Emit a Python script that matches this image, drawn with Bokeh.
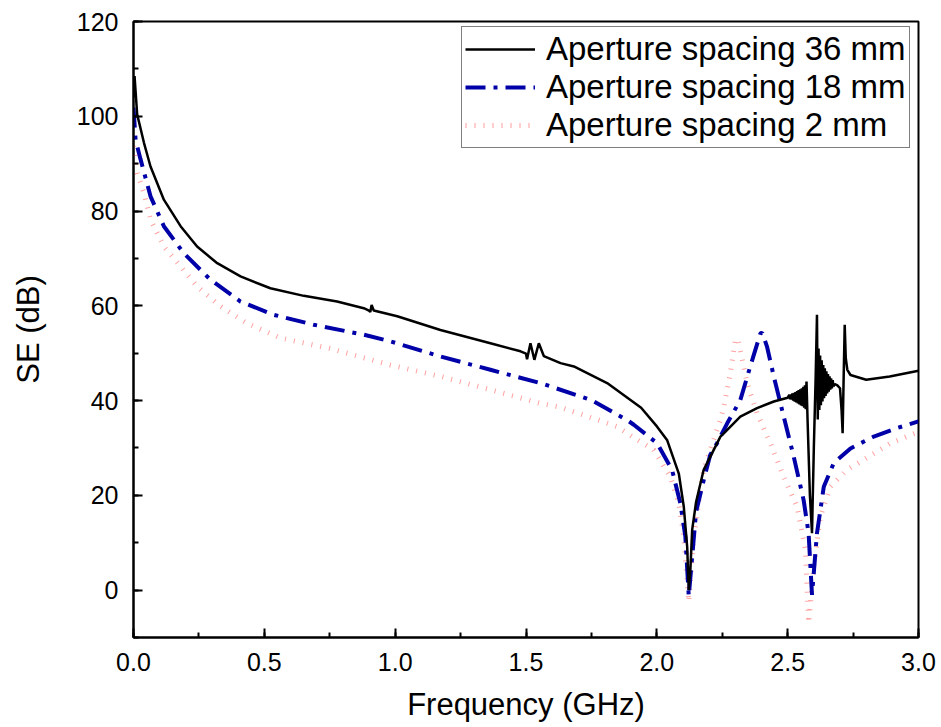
from bokeh.plotting import figure
from bokeh.models import Legend, LegendItem, SingleIntervalTicker, Range1d, PrintfTickFormatter
from bokeh.embed import file_html
from bokeh.resources import INLINE

# ---- data ----
f36 = [0.000, 0.004, 0.014, 0.040, 0.065, 0.116, 0.180, 0.243, 0.320, 0.409, 0.523, 0.651, 0.778,
       0.880, 0.900, 0.905, 0.910, 0.918, 1.008, 1.173, 1.364, 1.479, 1.500, 1.504, 1.517, 1.532,
       1.549, 1.568, 1.632, 1.683, 1.810, 1.940, 2.001, 2.039, 2.084, 2.103, 2.116, 2.122, 2.128,
       2.135, 2.150, 2.179, 2.192, 2.243, 2.256, 2.319, 2.383, 2.447, 2.500,
       2.506, 2.509, 2.512, 2.515, 2.518, 2.521, 2.524, 2.527, 2.530, 2.533, 2.536, 2.539, 2.542,
       2.545, 2.548, 2.551, 2.554, 2.557, 2.560, 2.563, 2.566, 2.569, 2.572, 2.576, 2.585, 2.593,
       2.600, 2.607, 2.612,
       2.615, 2.618, 2.621, 2.624, 2.627, 2.630, 2.633, 2.636, 2.639, 2.642, 2.645, 2.648, 2.651,
       2.654, 2.657, 2.660, 2.663, 2.666, 2.669, 2.672, 2.675, 2.680, 2.690, 2.700, 2.706, 2.710,
       2.714, 2.718, 2.722, 2.728, 2.740, 2.800, 2.890, 3.000]
se36 = [104.0, 108.5, 100.4, 94.4, 89.4, 82.4, 76.8, 72.5, 69.0, 66.2, 63.7, 62.1, 60.9,
        59.5, 59.0, 58.7, 60.2, 59.0, 57.8, 54.9, 52.1, 50.4, 49.9, 48.7, 52.1, 48.6,
        52.1, 49.4, 47.9, 47.2, 43.7, 38.5, 34.5, 31.7, 24.6, 17.6, 9.1, 0.0, 4.0,
        12.7, 18.6, 25.4, 26.8, 32.4, 33.1, 36.6, 38.4, 39.8, 40.6,
        41.2, 40.3, 41.3, 40.2, 41.5, 40.0, 41.6, 39.8, 41.8, 39.6, 42.0, 39.4, 42.2,
        39.2, 42.4, 39.0, 42.6, 38.8, 42.9, 38.5, 43.2, 38.2, 44.0, 36.0, 20.0, 12.0,
        30.0, 45.0, 58.1,
        36.0, 51.0, 38.0, 49.5, 39.0, 48.5, 39.8, 47.5, 40.5, 46.8, 41.0, 46.2, 41.5,
        45.6, 41.9, 45.1, 42.3, 44.7, 42.6, 44.3, 43.0, 43.5, 43.2, 42.6, 38.0, 33.1,
        45.0, 56.0, 49.0, 46.5, 45.4, 44.4, 45.1, 46.3]

f18 = [0.000, 0.008, 0.027, 0.065, 0.116, 0.192, 0.294, 0.409, 0.536, 0.689, 0.880, 0.982,
       1.173, 1.364, 1.555, 1.750, 1.886, 1.912, 2.001, 2.058, 2.090, 2.109, 2.122, 2.135,
       2.150, 2.179, 2.204, 2.230, 2.269, 2.319, 2.357, 2.396, 2.403, 2.421, 2.447, 2.485,
       2.523, 2.561, 2.580, 2.593, 2.612, 2.638, 2.676, 2.740, 2.829, 2.918, 3.000]
se18 = [101.8, 95.0, 90.9, 83.1, 76.8, 71.1, 65.5, 60.9, 58.1, 56.0, 53.9, 52.5,
        49.3, 46.5, 43.7, 40.1, 35.9, 34.9, 31.0, 25.4, 18.3, 11.3, -1.3, 7.0,
        16.5, 23.2, 28.5, 31.0, 35.2, 40.1, 47.2, 54.2, 54.3, 51.4, 45.1, 36.6,
        28.2, 19.0, 12.0, -1.0, 12.0, 21.8, 26.8, 29.9, 32.4, 34.2, 35.6]

f2 = [0.000, 0.014, 0.040, 0.065, 0.116, 0.180, 0.243, 0.332, 0.434, 0.562, 0.750, 0.982,
      1.173, 1.364, 1.555, 1.632, 1.700, 1.780, 1.848, 1.886, 1.988, 2.052, 2.084, 2.103,
      2.122, 2.141, 2.179, 2.217, 2.243, 2.256, 2.281, 2.300, 2.310, 2.345, 2.383, 2.434,
      2.485, 2.536, 2.568, 2.580, 2.600, 2.625, 2.663, 2.727, 2.790, 2.893, 3.000]
se2 = [93.7, 88.0, 83.8, 78.2, 72.5, 68.3, 64.1, 59.9, 56.3, 53.2, 51.0, 47.5,
       45.1, 42.3, 39.4, 38.6, 37.3, 35.8, 34.5, 33.1, 29.6, 23.9, 18.3, 11.3,
       -2.5, 11.3, 25.4, 31.7, 35.9, 38.7, 45.8, 52.8, 53.0, 43.7, 37.3, 31.0,
       23.9, 17.6, 8.5, -7.0, 4.9, 15.5, 21.8, 25.4, 27.5, 31.0, 33.4]

labels = ["Aperture spacing 36 mm", "Aperture spacing 18 mm", "Aperture spacing 2 mm"]

FONT = "Liberation Sans"

p = figure(width=941, height=727, output_backend="svg", toolbar_location=None,
           x_range=Range1d(0, 3), y_range=Range1d(-10, 120),
           min_border_left=133, min_border_right=23, min_border_top=21, min_border_bottom=90)

p.xgrid.visible = False
p.ygrid.visible = False
p.outline_line_color = "black"
p.outline_line_width = 2
p.outline_line_alpha = 1.0

r2 = p.line(f2, se2, line_color="#FF8080", line_width=5, line_dash="1 8", line_alpha=0.75)
r18 = p.line(f18, se18, line_color="#0000A8", line_width=4, line_dash="20 8 4 8")
r36 = p.line(f36, se36, line_color="black", line_width=2.5)

p.xaxis.ticker = SingleIntervalTicker(interval=0.5, num_minor_ticks=2)
p.yaxis.ticker = SingleIntervalTicker(interval=20, num_minor_ticks=2)
p.xaxis.formatter = PrintfTickFormatter(format="%.1f")
p.yaxis.formatter = PrintfTickFormatter(format="%d")

for ax in (p.xaxis[0], p.yaxis[0]):
    ax.axis_line_width = 2
    ax.axis_line_color = "black"
    ax.major_tick_line_width = 2
    ax.minor_tick_line_width = 2
    ax.major_tick_line_color = "black"
    ax.minor_tick_line_color = "black"
    ax.major_tick_in = 9
    ax.major_tick_out = 0
    ax.minor_tick_in = 5
    ax.minor_tick_out = 0
    ax.major_label_text_font = FONT
    ax.major_label_text_font_size = "25px"
    ax.major_label_text_color = "black"
    ax.axis_label_text_font = FONT
    ax.axis_label_text_font_size = "31px"
    ax.axis_label_text_font_style = "normal"
    ax.axis_label_text_color = "black"

p.xaxis.major_label_standoff = 15
p.yaxis.major_label_standoff = 15
p.xaxis.axis_label = "Frequency (GHz)"
p.yaxis.axis_label = "SE (dB)"
p.xaxis.axis_label_standoff = 13
p.yaxis.axis_label_standoff = 28

legend = Legend(items=[LegendItem(label=labels[0], renderers=[r36]),
                       LegendItem(label=labels[1], renderers=[r18]),
                       LegendItem(label=labels[2], renderers=[r2])],
                location=(328, 489))
legend.label_text_font = FONT
legend.label_text_font_size = "33px"
legend.label_text_color = "black"
legend.glyph_width = 70
legend.glyph_height = 38
legend.label_height = 38
legend.label_standoff = 11
legend.spacing = 0
legend.padding = 3
legend.margin = 0
legend.border_line_color = "black"
legend.border_line_width = 1
legend.background_fill_alpha = 1.0
p.add_layout(legend, "center")

open("out.html", "w").write(file_html(p, INLINE))
